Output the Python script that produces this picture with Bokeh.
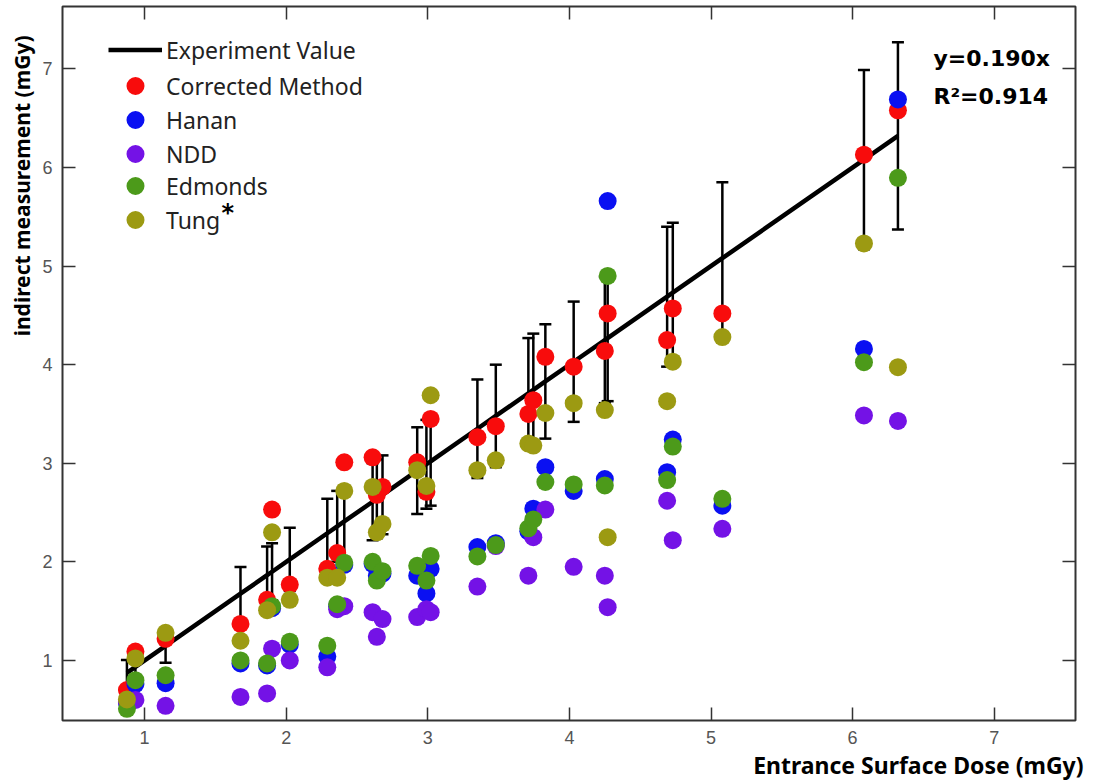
import numpy as np
from bokeh.plotting import figure
from bokeh.models import (ColumnDataSource, Whisker, TeeHead, Legend, LegendItem,
                          Label, LinearAxis, FixedTicker, Range1d, Title)
from bokeh.embed import file_html
from bokeh.resources import INLINE

# ---------------- data ----------------
exp_dose = [0.875, 0.935, 1.148, 1.677, 1.865, 1.90, 2.025, 2.29, 2.36, 2.41,
            2.61, 2.64, 2.68, 2.925, 2.99, 3.02, 3.35, 3.48, 3.71, 3.745,
            3.83, 4.03, 4.25, 4.27, 4.69, 4.73, 5.08, 6.08, 6.32]
exp_err = [0.13, 0.14, 0.17, 0.27, 0.29, 0.29, 0.32, 0.35, 0.36, 0.36,
           0.39, 0.40, 0.40, 0.44, 0.45, 0.45, 0.50, 0.52, 0.56, 0.57,
           0.58, 0.61, 0.64, 0.64, 0.71, 0.71, 0.77, 0.91, 0.95]
corrected = [0.70, 1.09, 1.22, 1.37, 1.615, 2.53, 1.77, 1.93, 2.09, 3.01,
             3.06, 2.68, 2.76, 3.01, 2.71, 3.45, 3.265, 3.376, 3.50, 3.64,
             4.08, 3.98, 4.14, 4.52, 4.25, 4.57, 4.52, 6.13, 6.58]
hanan = [0.57, 0.76, 0.77, 0.97, 0.95, 1.53, 1.16, 1.04, 1.55, 1.97,
         1.98, 1.86, 1.88, 1.86, 1.68, 1.93, 2.15, 2.19, 2.31, 2.54,
         2.96, 2.72, 2.84, 5.66, 2.91, 3.24, 2.57, 4.16, 6.69]
ndd = [0.58, 0.60, 0.54, 0.63, 0.665, 1.12, 1.00, 0.93, 1.52, 1.55,
       1.49, 1.24, 1.42, 1.44, 1.52, 1.49, 1.75, 2.16, 1.86, 2.25,
       2.53, 1.95, 1.86, 1.54, 2.62, 2.22, 2.335, 3.485, 3.43]
edmonds = [0.51, 0.80, 0.85, 1.00, 0.97, 1.55, 1.19, 1.15, 1.57, 1.99,
           2.00, 1.81, 1.905, 1.96, 1.81, 2.06, 2.055, 2.17, 2.34, 2.43,
           2.81, 2.785, 2.775, 4.90, 2.83, 3.17, 2.64, 4.025, 5.895]
tung = [0.605, 1.02, 1.28, 1.20, 1.51, 2.30, 1.615, 1.84, 1.84, 2.72,
        2.76, 2.30, 2.385, 2.93, 2.77, 3.69, 2.93, 3.03, 3.20, 3.18,
        3.51, 3.61, 3.54, 2.25, 3.63, 4.03, 4.28, 5.23, 3.975]

line_name = "Experiment Value"
series_names = ["Corrected Method", "Hanan", "NDD", "Edmonds", "Tung"]
series_values = [corrected, hanan, ndd, edmonds, tung]
series_colors = ["#f80c0c", "#0a10f2", "#7412e6", "#4c9a1a", "#9c9a12"]
x_ticks = [1, 2, 3, 4, 5, 6, 7]
y_ticks = [1, 2, 3, 4, 5, 6, 7]
x_title = "Entrance Surface Dose (mGy)"
y_title = "indirect measurement (mGy)"
fit_text = "y=0.190x"
r2_text = "R\u00b2=0.914"

# ---------------- layout ----------------
FL, FR, FT, FB = 62, 18, 6, 61
FW, FH = 1093 - FL - FR, 781 - FT - FB
FONT = "Noto Sans"

p = figure(frame_width=FW, frame_height=FH,
           x_range=Range1d(0.42, 7.574), y_range=Range1d(0.391, 7.633),
           output_backend="svg", toolbar_location=None,
           min_border_left=FL, min_border_right=FR,
           min_border_top=FT, min_border_bottom=FB,
           background_fill_color="white", border_fill_color="white")
p.xgrid.visible = False
p.ygrid.visible = False
p.outline_line_color = "#333333"
p.outline_line_width = 2

def style_axis(ax, ticks, show_labels=True):
    ax.ticker = FixedTicker(ticks=ticks)
    ax.major_tick_in = 13
    ax.major_tick_out = 0
    ax.major_tick_line_color = "#333333"
    ax.major_tick_line_width = 1.5
    ax.minor_tick_line_color = None
    ax.axis_line_color = None
    if show_labels:
        ax.major_label_text_font = "Liberation Sans"
        ax.major_label_text_font_size = "18px"
        ax.major_label_text_color = "#555555"
        ax.major_label_standoff = 10
    else:
        ax.major_label_text_font_size = "0px"
        ax.major_label_text_color = None
        ax.major_label_standoff = 0

style_axis(p.xaxis[0], x_ticks)
style_axis(p.yaxis[0], y_ticks)
top_ax = LinearAxis()
style_axis(top_ax, x_ticks, False)
p.add_layout(top_ax, "above")
right_ax = LinearAxis()
style_axis(right_ax, y_ticks, False)
p.add_layout(right_ax, "right")

# axis titles as side titles
p.add_layout(Title(text=x_title, align="right", offset=-8, standoff=0,
                   text_font=FONT, text_font_size="23px",
                   text_font_style="bold", text_color="black"), "below")
p.add_layout(Title(text=y_title, align="right", offset=29, standoff=8,
                   text_font=FONT, text_font_size="21px",
                   text_font_style="bold", text_color="black"), "left")

# error bars
err_src = ColumnDataSource(dict(
    x=exp_dose,
    upper=[d + e for d, e in zip(exp_dose, exp_err)],
    lower=[d - e for d, e in zip(exp_dose, exp_err)]))
whisk = Whisker(base="x", upper="upper", lower="lower", source=err_src,
                dimension="height", line_color="black", line_width=2.5,
                level="underlay",
                upper_head=TeeHead(size=12, line_width=2.5, line_color="black"),
                lower_head=TeeHead(size=12, line_width=2.5, line_color="black"))
p.add_layout(whisk)

r_line = p.line(exp_dose, exp_dose, line_color="black", line_width=4.5)

renderers = [(line_name, r_line)]
for name, vals, col in zip(series_names, series_values, series_colors):
    r = p.scatter(exp_dose, vals, size=18, fill_color=col, line_color=None)
    renderers.append((name, r))

# one legend per row so rows can sit closer than the glyph box height
row_centers = [49, 85, 119, 153, 186, 220]
for (name, r), cy in zip(renderers, row_centers):
    lg = Legend(items=[LegendItem(label=name, renderers=[r])],
                location=(46, int(round((FT + FH) - (cy + 22.5)))),
                padding=0, margin=0, spacing=0,
                glyph_width=54, glyph_height=45,
                label_standoff=4, label_text_font=FONT,
                label_text_font_size="23px", label_text_color="#222222",
                border_line_color=None, background_fill_alpha=0)
    p.add_layout(lg)

def sx(px):
    return px - FL

def sy(py):
    return (FT + FH) - py

def lab(text, px, py, size, font=FONT, align="left", style="bold"):
    p.add_layout(Label(x=sx(px), y=sy(py), x_units="screen", y_units="screen",
                       text=text, text_font=font, text_font_size=size,
                       text_font_style=style, text_color="black",
                       text_align=align, text_baseline="middle"))

# superscript asterisk on "Tung"
lab("*", 221, 212, "24px", font="DejaVu Sans")

# fit annotation
lab(fit_text, 933, 58, "22px", font="DejaVu Sans")
lab(r2_text, 933, 96, "22px", font="DejaVu Sans")

open("out.html", "w").write(file_html(p, INLINE))
